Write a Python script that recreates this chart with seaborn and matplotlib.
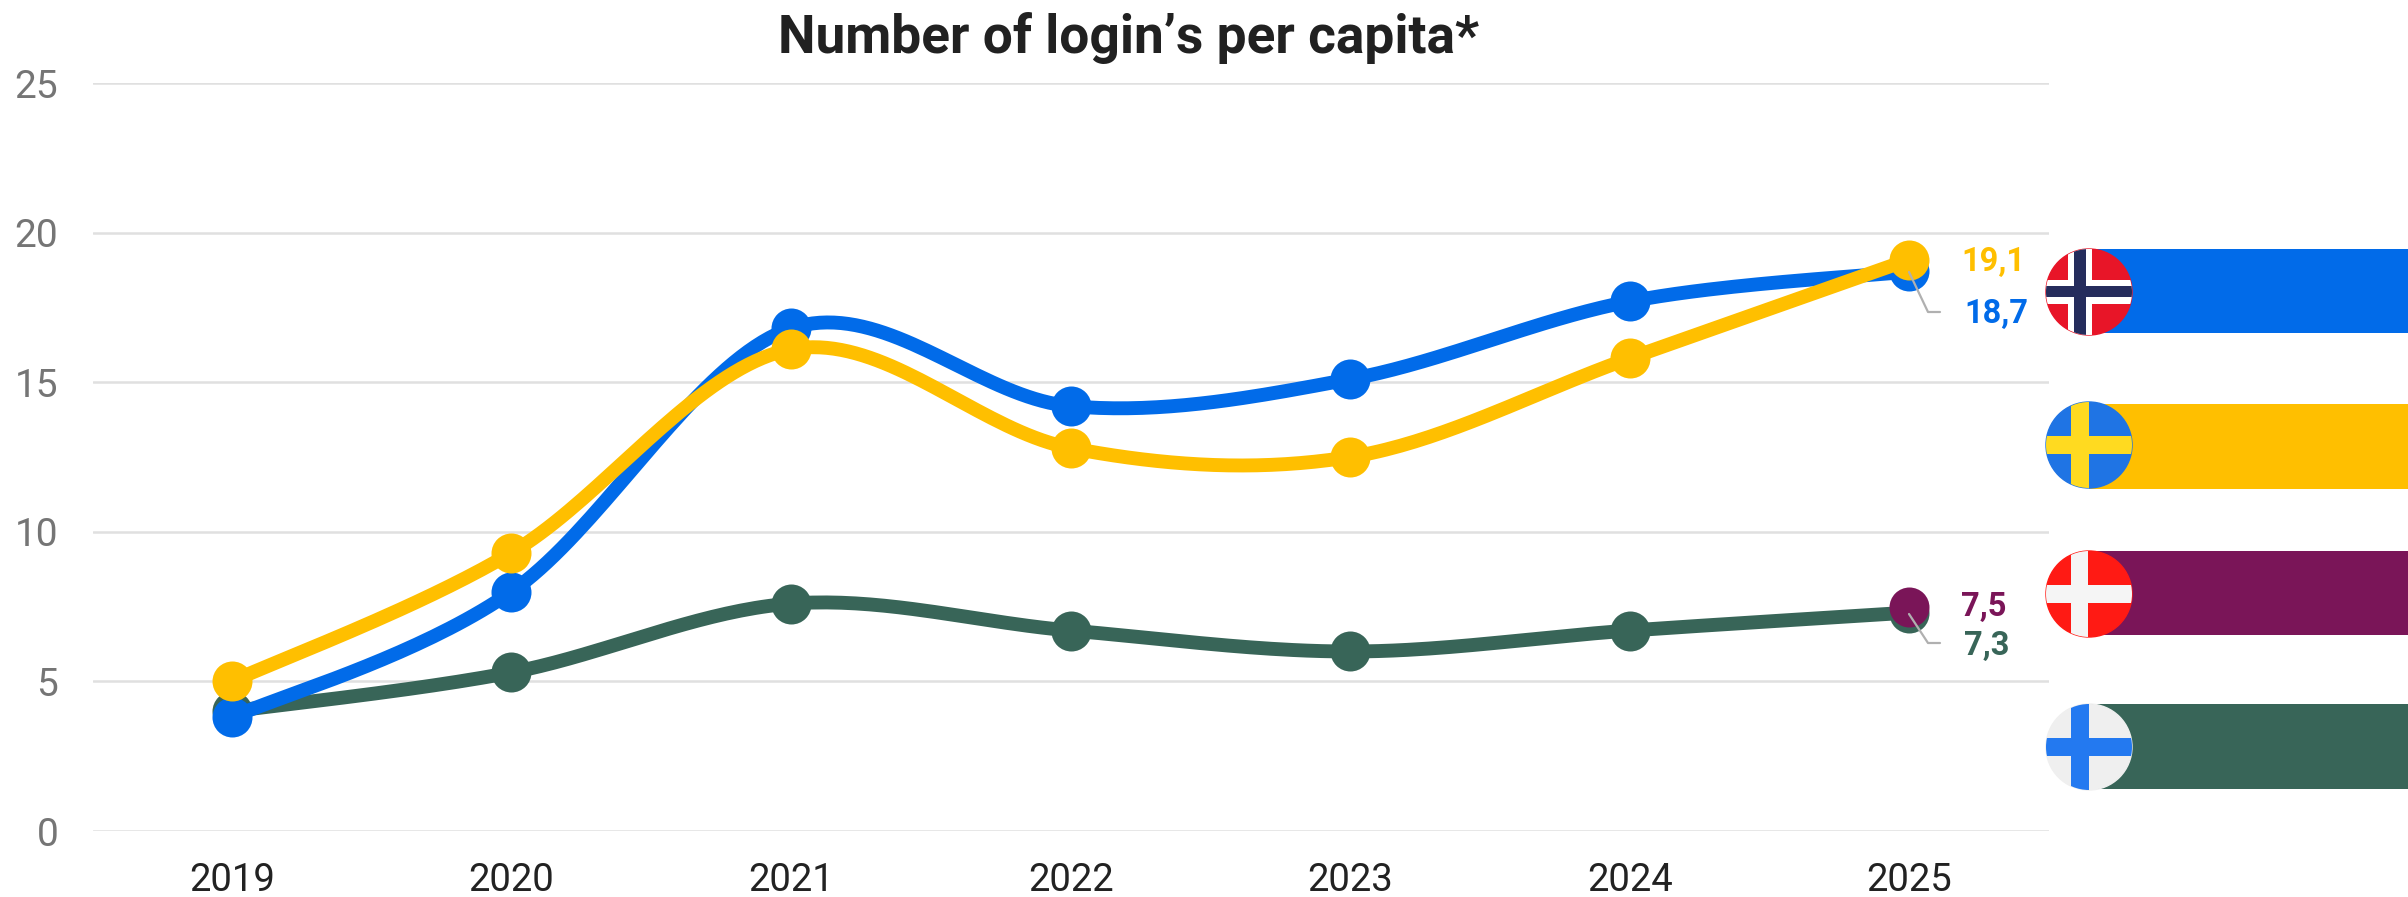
"""Number of logins per capita, Nordic countries, with flag bars on the right."""
import matplotlib

matplotlib.use("Agg")
import matplotlib.pyplot as plt
from matplotlib.patches import Circle, Rectangle
import numpy as np
import seaborn as sns

YEARS = [2019, 2020, 2021, 2022, 2023, 2024, 2025]
NORWAY = [3.8, 8.0, 16.8, 14.2, 15.1, 17.7, 18.7]
SWEDEN = [5.0, 9.3, 16.1, 12.8, 12.5, 15.8, 19.1]
FINLAND = [4.0, 5.3, 7.6, 6.7, 6.0, 6.7, 7.3]
DENMARK_2025 = 7.5
COUNTRIES = ["Norway", "Sweden", "Denmark", "Finland"]
LATEST = [18.7, 19.1, 7.5, 7.3]
LATEST_LABELS = ["18,7", "19,1", "7,5", "7,3"]
Y_TICKS = [0, 5, 10, 15, 20, 25]

BLUE = "#016BE9"
YELLOW = "#FFBF00"
PURPLE = "#7A1558"
GREEN = "#386558"
GRID = "#E0E0E0"

W, H = 2408, 897
# layout in image pixels
AX_L, AX_R, AX_T, AX_B = 93, 2049, 83, 831
BAR_L = 2089
BAR_CENTRES = [291, 446.5, 593, 746.5]
FLAG_CENTRES = [292, 445, 594, 747]
LABEL_POS = [(1964, 314), (1961, 262), (1961, 607), (1964, 646)]
LEADERS = {
    "Norway": ([1909, 1928, 1940], [272, 312, 312]),
    "Finland": ([1909, 1928, 1940], [614, 643, 643]),
}
# field, cross, stripe colour, then the cross arm boxes (x0, x1, y0, y1 offsets from flag centre)
FLAGS = [
    ("#E81528", "#252C5C", "#FFFFFF", (-15, -3, -5.5, 5.5), (-21, 3, -12, 12)),
    ("#1F74E4", "#FFDA20", None, (-18, 0, -9, 9), None),
    ("#FF1A14", "#F5F5F5", None, (-18, -1, -9, 9), None),
    ("#EFEFEF", "#2379F0", None, (-18, 0, -9, 9), None),
]


def smooth(x, y, steps=40):
    """Catmull-Rom curve through the points, the way the chart rounds its lines."""
    x, y = np.asarray(x, float), np.asarray(y, float)
    xs, ys = [], []
    for i in range(len(x) - 1):
        p0 = max(i - 1, 0)
        p3 = min(i + 2, len(x) - 1)
        c1x, c1y = x[i] + (x[i + 1] - x[p0]) / 6, y[i] + (y[i + 1] - y[p0]) / 6
        c2x, c2y = x[i + 1] - (x[p3] - x[i]) / 6, y[i + 1] - (y[p3] - y[i]) / 6
        t = np.linspace(0, 1, steps)
        a, b, c, d = (1 - t) ** 3, 3 * t * (1 - t) ** 2, 3 * t**2 * (1 - t), t**3
        xs.extend(a * x[i] + b * c1x + c * c2x + d * x[i + 1])
        ys.extend(a * y[i] + b * c1y + c * c2y + d * y[i + 1])
    return xs, ys


def draw_series(ax, values, color, zorder):
    xs, ys = smooth(YEARS, values)
    sns.lineplot(x=xs, y=ys, sort=False, estimator=None, color=color, lw=10, ax=ax,
                 zorder=zorder, solid_capstyle="round", clip_on=False)
    sns.scatterplot(x=YEARS, y=values, color=color, s=28.8**2, linewidth=0, ax=ax,
                    zorder=zorder, clip_on=False)


def draw_flag(ax, cy, spec):
    field, cross, stripe, box, stripe_box = spec
    cx, r = 2089, 43
    disc = Circle((cx, cy), r, color=field, zorder=5)
    ax.add_patch(disc)
    arms = []
    if stripe:
        x0, x1, y0, y1 = stripe_box
        arms.append((x0, x1, stripe))
    x0, x1, y0, y1 = box
    arms.append((x0, x1, cross))
    for i, (a0, a1, col) in enumerate(arms):
        half = stripe_box[3] if stripe and i == 0 else y1
        vert = Rectangle((cx + a0, cy - r), a1 - a0, 2 * r, color=col, lw=0, zorder=6 + i)
        horiz = Rectangle((cx - r, cy - half), 2 * r, 2 * half, color=col, lw=0, zorder=6 + i)
        for patch in (vert, horiz):
            ax.add_patch(patch)
            patch.set_clip_path(disc)


def main():
    sns.set_theme(style="white")
    plt.rcParams["font.family"] = ["Roboto", "DejaVu Sans"]

    fig = plt.figure(figsize=(W / 100, H / 100), dpi=100, facecolor="white")
    ax = fig.add_axes([AX_L / W, 1 - AX_B / H, (AX_R - AX_L) / W, (AX_B - AX_T) / H])

    draw_series(ax, FINLAND, GREEN, 3)
    draw_series(ax, NORWAY, BLUE, 4)
    draw_series(ax, SWEDEN, YELLOW, 5)
    sns.scatterplot(x=[YEARS[-1]], y=[DENMARK_2025], color=PURPLE, s=28.8**2, linewidth=0,
                    ax=ax, zorder=6, clip_on=False)

    ax.set_xlim(2018.503, 2025.5)
    ax.set_ylim(0, 25)
    ax.set_xticks(YEARS)
    ax.set_yticks(Y_TICKS)
    ax.grid(True, axis="y", color=GRID, lw=1.8)
    ax.set_axisbelow(True)
    ax.tick_params(axis="x", length=0, pad=22.5, labelsize=27.5, labelcolor="#222222")
    ax.tick_params(axis="y", length=0, pad=25, labelsize=28, labelcolor="#757575")
    ax.set_xlabel("")
    ax.set_ylabel("")
    sns.despine(ax=ax, left=True, bottom=True)

    # country bars, cut off by the right edge of the picture
    bar_ax = fig.add_axes([BAR_L / W, 0, (W - BAR_L) / W, 1])
    sns.barplot(x=LATEST, y=BAR_CENTRES, hue=COUNTRIES, orient="h", native_scale=True,
                palette=[BLUE, YELLOW, PURPLE, GREEN], width=84.5 / 146.5, dodge=False,
                saturation=1, legend=False, ax=bar_ax, linewidth=0)
    bar_ax.set_xlim(0, 5)
    bar_ax.set_ylim(H, 0)
    bar_ax.axis("off")

    # overlay in image pixels for flags, leaders and end labels
    over = fig.add_axes([0, 0, 1, 1], facecolor="none")
    over.set_xlim(0, W)
    over.set_ylim(H, 0)
    over.axis("off")

    for cy, spec in zip(FLAG_CENTRES, FLAGS):
        draw_flag(over, cy, spec)
    for xs, ys in LEADERS.values():
        over.plot(xs, ys, color="#B0B0B0", lw=1.6, zorder=7)
    for (x, y), text, col in zip(LABEL_POS, LATEST_LABELS, [BLUE, YELLOW, PURPLE, GREEN]):
        over.text(x, y, text, color=col, fontsize=23.5, fontweight="bold", va="center", ha="left")

    fig.text(1129 / W, 1 - 38 / H, "Number of login\u2019s per capita*", ha="center", va="center",
             fontsize=38.3, fontweight="bold", color="#212121")

    fig.savefig("out.png", dpi=100, facecolor="white")
    plt.close(fig)


if __name__ == "__main__":
    main()
